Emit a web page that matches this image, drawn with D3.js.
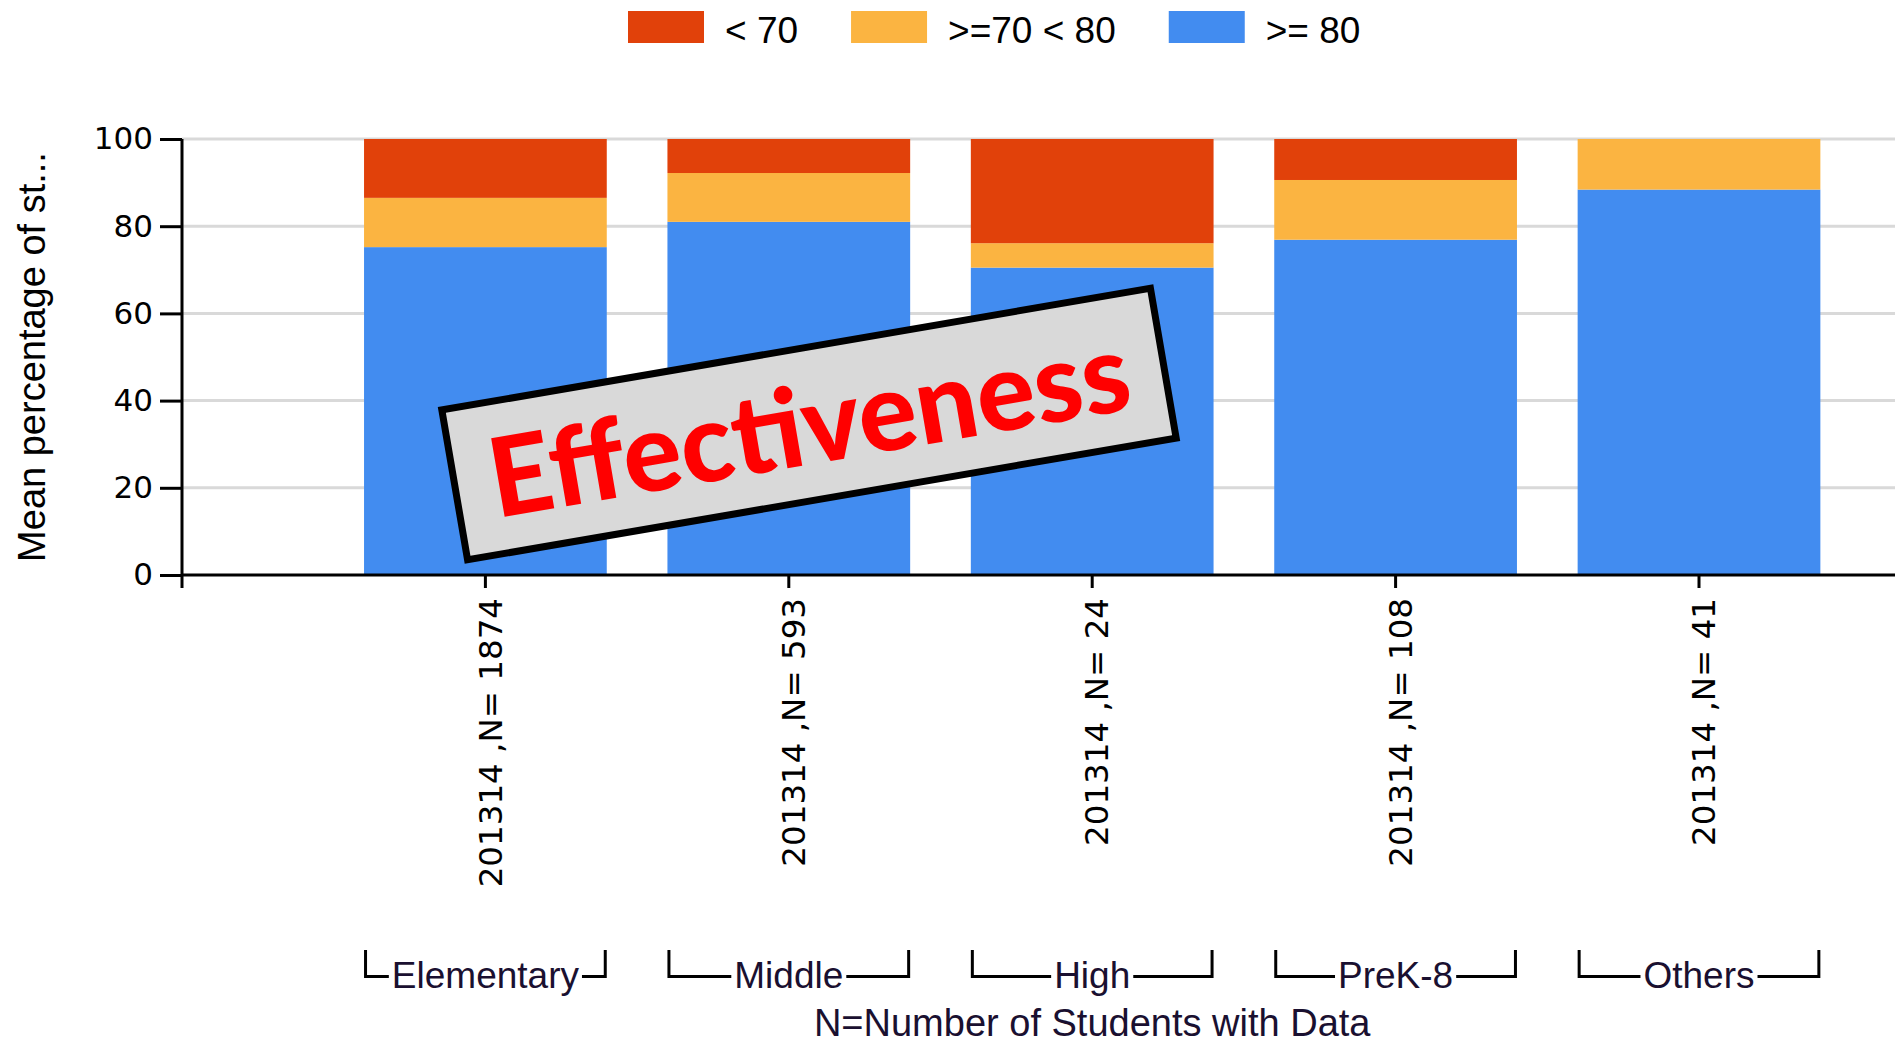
<!DOCTYPE html>
<html>
<head>
<meta charset="utf-8">
<script src="https://cdn.jsdelivr.net/npm/d3@7"></script>
<style>
  body { margin: 0; background: #fff; }
  svg { display: block; }
</style>
</head>
<body>
<svg id="chart" width="1895" height="1045"></svg>
<script>
// ---- data ----
const categories = ["Elementary", "Middle", "High", "PreK-8", "Others"];
const countLabels = ["201314 ,N= 1874", "201314 ,N= 593", "201314 ,N= 24", "201314 ,N= 108", "201314 ,N= 41"];
const atLeast80 = [75.2, 81.0, 70.5, 76.9, 88.4];
const from70to80 = [11.3, 11.2, 5.6, 13.7, 11.6];
const below70 = [13.5, 7.8, 23.9, 9.4, 0];
const yTicks = [0, 20, 40, 60, 80, 100];
const legendLabels = ["< 70", ">=70 < 80", ">= 80"];
const yTitle = "Mean percentage of st...";
const xTitle = "N=Number of Students with Data";
const stampText = "Effectiveness";

// ---- layout ----
const W = 1895, H = 1045;
const plotLeft = 182, plotTop = 139, plotBottom = 575, plotRight = W;
const step = 303.4;
const colors = { "< 70": "#e1410a", ">=70 < 80": "#fbb441", ">= 80": "#428cf0" };
const keys = [">= 80", ">=70 < 80", "< 70"];   // stacked bottom to top

const rows = categories.map((c, i) => ({
  cat: c, ">= 80": atLeast80[i], ">=70 < 80": from70to80[i], "< 70": below70[i]
}));

const svg = d3.select("#chart");

const x = d3.scaleBand()
  .domain(categories)
  .range([plotLeft + step / 2, plotLeft + step * 5.5])
  .paddingInner(0.2)
  .paddingOuter(0.1);

const y = d3.scaleLinear().domain([0, 100]).range([plotBottom, plotTop]);

// gridlines
svg.append("g")
  .selectAll("line")
  .data(yTicks.filter(t => t > 0))
  .join("line")
  .attr("x1", plotLeft).attr("x2", plotRight)
  .attr("y1", d => y(d)).attr("y2", d => y(d))
  .attr("stroke", "#d9d9d9").attr("stroke-width", 3);

// stacked bars
const stacked = d3.stack().keys(keys)(rows);
svg.append("g")
  .selectAll("g")
  .data(stacked)
  .join("g")
  .attr("fill", s => colors[s.key])
  .selectAll("rect")
  .data(s => s)
  .join("rect")
  .attr("x", d => x(d.data.cat))
  .attr("width", x.bandwidth())
  .attr("y", d => y(d[1]))
  .attr("height", d => y(d[0]) - y(d[1]));

// y axis
const yAxis = svg.append("g")
  .attr("transform", `translate(${plotLeft},0)`)
  .call(d3.axisLeft(y).tickValues(yTicks).tickSize(22).tickSizeOuter(0).tickPadding(7));
yAxis.select(".domain").remove();
yAxis.selectAll(".tick line").attr("stroke", "#000").attr("stroke-width", 3);
yAxis.selectAll(".tick text")
  .attr("font-family", "DejaVu Sans, Verdana, sans-serif")
  .attr("font-size", 31).attr("fill", "#000");
svg.append("line")
  .attr("x1", plotLeft).attr("x2", plotLeft)
  .attr("y1", plotTop).attr("y2", plotBottom + 13)
  .attr("stroke", "#000").attr("stroke-width", 3);

// x axis
const xAxis = svg.append("g")
  .attr("transform", `translate(0,${plotBottom})`)
  .call(d3.axisBottom(x).tickSize(13).tickSizeOuter(0)
    .tickFormat((d, i) => countLabels[i]));
xAxis.select(".domain").remove();
xAxis.selectAll(".tick line").attr("stroke", "#000").attr("stroke-width", 3);
xAxis.selectAll(".tick text")
  .attr("font-family", "DejaVu Sans, Verdana, sans-serif")
  .attr("font-size", 32.5).attr("fill", "#000")
  .attr("transform", "rotate(-90)")
  .attr("x", -23).attr("y", 0).attr("dy", "0.5em")
  .attr("text-anchor", "end");
svg.append("line")
  .attr("x1", plotLeft).attr("x2", plotRight)
  .attr("y1", plotBottom).attr("y2", plotBottom)
  .attr("stroke", "#000").attr("stroke-width", 3);

// y title
svg.append("text")
  .attr("transform", `translate(45,${(plotTop + plotBottom) / 2}) rotate(-90)`)
  .attr("text-anchor", "middle")
  .attr("font-family", "Liberation Sans, Arial, sans-serif")
  .attr("font-size", 38).attr("fill", "#000")
  .text(yTitle);

// category brackets
const brTop = 950, brY = 976.5, labelBase = 988;
const brackets = svg.append("g");
categories.forEach(c => {
  const x0 = x(c) + 1.5, x1 = x(c) + x.bandwidth() - 1.5, cx = (x0 + x1) / 2;
  const t = brackets.append("text")
    .attr("x", cx).attr("y", labelBase)
    .attr("text-anchor", "middle")
    .attr("font-family", "Liberation Sans, Arial, sans-serif")
    .attr("font-size", 37).attr("fill", "#1a1030")
    .text(c);
  const tw = t.node().getComputedTextLength();
  const path = d3.path();
  path.moveTo(x0, brTop); path.lineTo(x0, brY); path.lineTo(cx - tw / 2 - 3, brY);
  path.moveTo(cx + tw / 2 + 3, brY); path.lineTo(x1, brY); path.lineTo(x1, brTop);
  brackets.append("path").attr("d", path.toString())
    .attr("fill", "none").attr("stroke", "#000").attr("stroke-width", 3);
});

// x title
svg.append("text")
  .attr("x", (x(categories[0]) + x(categories[categories.length - 1]) + x.bandwidth()) / 2)
  .attr("y", 1036)
  .attr("text-anchor", "middle")
  .attr("font-family", "Liberation Sans, Arial, sans-serif")
  .attr("font-size", 38).attr("fill", "#1a1030")
  .text(xTitle);

// legend
const legend = svg.append("g");
let lx = 628;
legendLabels.forEach(lbl => {
  legend.append("rect")
    .attr("x", lx).attr("y", 11).attr("width", 76).attr("height", 32)
    .attr("fill", colors[lbl]);
  const t = legend.append("text")
    .attr("x", lx + 97).attr("y", 43)
    .attr("font-family", "Liberation Sans, Arial, sans-serif")
    .attr("font-size", 37).attr("fill", "#000")
    .text(lbl);
  lx += 97 + t.node().getComputedTextLength() + 53;
});

// stamp overlay
const stamp = svg.append("g")
  .attr("transform", "translate(809,424) rotate(-9.75)");
stamp.append("rect")
  .attr("x", -359.5).attr("y", -76).attr("width", 719).attr("height", 152)
  .attr("fill", "#d9d9d9").attr("stroke", "#000").attr("stroke-width", 7);
stamp.append("text")
  .attr("x", 0).attr("y", 40)
  .attr("text-anchor", "middle")
  .attr("font-family", "Lato, Liberation Sans, sans-serif")
  .attr("font-weight", 900)
  .attr("font-size", 110).attr("fill", "#ff0000")
  .attr("textLength", 648).attr("lengthAdjust", "spacingAndGlyphs")
  .text(stampText);
</script>
</body>
</html>
